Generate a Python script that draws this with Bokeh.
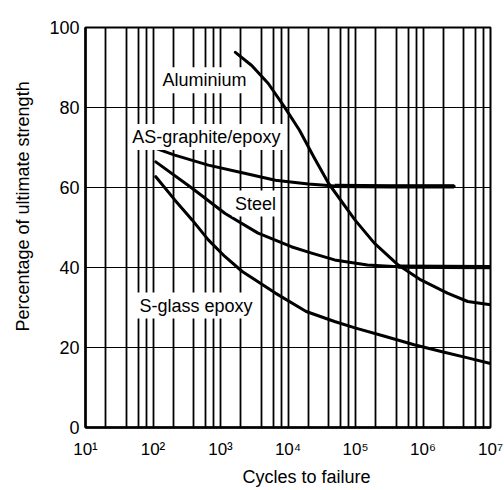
from bokeh.plotting import figure
from bokeh.models import FixedTicker, Label, Title
from bokeh.embed import file_html
from bokeh.resources import INLINE

FONT = "Liberation Sans"

# axis ticks / labels
x_ticks = [10, 100, 1000, 10000, 100000, 1000000, 10000000]
x_tick_labels = ["10¹", "10²", "10³", "10⁴", "10⁵", "10⁶", "10⁷"]
grid_multipliers = [1, 2, 4, 6, 8]
y_ticks = [0, 20, 40, 60, 80, 100]
y_tick_labels = ["0", "20", "40", "60", "80", "100"]

# series: cycles to failure vs % of ultimate strength
alu_x = [1.66e3, 2.9e3, 5.1e3, 8.9e3, 1.48e4, 2.4e4, 4.0e4, 9.8e4, 1.9e5, 4.3e5, 9.3e5, 2.3e6, 4.6e6, 1.0e7]
alu_y = [93.8, 90.5, 86.0, 80.1, 74.3, 67.7, 61.0, 51.9, 46.1, 40.6, 36.9, 33.6, 31.5, 30.7]

gr_x = [1.1e2, 2.1e2, 6.6e2, 2.1e3, 6.5e3, 2.0e4, 4.9e4, 3.2e5, 2.9e6]
gr_y = [69.8, 68.1, 65.6, 63.7, 61.8, 60.9, 60.4, 60.3, 60.3]

st_x = [1.1e2, 3.8e2, 1.17e3, 3.6e3, 1.12e4, 2.24e4, 4.9e4, 1.5e5, 4.3e5, 1.0e7]
st_y = [66.4, 59.8, 53.5, 48.6, 45.2, 43.6, 41.9, 40.6, 40.2, 40.1]

sg_x = [1.1e2, 2.1e2, 3.8e2, 6.6e2, 1.17e3, 2.1e3, 6.5e3, 1.86e4, 4.9e4, 9.8e4, 2.7e5, 7.4e5, 1.86e6, 4.6e6, 1.0e7]
sg_y = [62.7, 56.9, 51.9, 46.9, 42.7, 39.0, 33.6, 29.0, 26.5, 24.9, 22.8, 20.7, 19.0, 17.4, 16.0]

curve_labels = ["Aluminium", "AS-graphite/epoxy", "Steel", "S-glass epoxy"]
label_x = [578, 617, 3310, 434]
label_y = [86.8, 72.6, 56.0, 30.5]

x_title = "Cycles to failure"
y_title = "Percentage of ultimate strength"

grid_x = [m * 10 ** k for k in range(1, 7) for m in grid_multipliers] + [10 ** 7]

p = figure(width=504, height=490, x_axis_type="log",
           x_range=(10, 1e7), y_range=(0, 100),
           output_backend="svg", toolbar_location=None,
           min_border_left=83, min_border_right=14,
           min_border_top=27, min_border_bottom=62,
           background_fill_color="white", border_fill_color="white")

p.outline_line_color = "black"
p.outline_line_width = 2
p.outline_line_alpha = 1.0

# grid
p.xgrid.ticker = FixedTicker(ticks=grid_x)
p.xgrid.grid_line_color = "black"
p.xgrid.grid_line_width = 1.8
p.xgrid.grid_line_alpha = 1.0
p.ygrid.ticker = FixedTicker(ticks=y_ticks)
p.ygrid.grid_line_color = "black"
p.ygrid.grid_line_width = 1.2
p.ygrid.grid_line_alpha = 1.0

# x axis
xa = p.xaxis[0]
xa.ticker = FixedTicker(ticks=x_ticks)
xa.major_label_overrides = {t: s for t, s in zip(x_ticks, x_tick_labels)}
xa.major_label_standoff = 12
xa.major_label_text_font = FONT
xa.major_label_text_font_size = "17px"

# y axis
ya = p.yaxis[0]
ya.ticker = FixedTicker(ticks=y_ticks)
ya.major_label_overrides = {t: s for t, s in zip(y_ticks, y_tick_labels)}
ya.major_label_standoff = 6
ya.major_label_text_font = FONT
ya.major_label_text_font_size = "18px"
ya.major_label_text_baseline = "alphabetic"

for ax in (xa, ya):
    ax.major_tick_in = 0
    ax.major_tick_out = 0
    ax.minor_tick_in = 0
    ax.minor_tick_out = 0
    ax.axis_line_width = 2.5
    ax.axis_line_color = "black"
    ax.major_label_text_color = "black"

# axis titles
p.add_layout(Title(text=x_title, align="left", offset=157, standoff=7,
                   vertical_align="bottom", text_font=FONT, text_font_size="18px",
                   text_font_style="normal", text_color="black"), "below")
p.add_layout(Title(text=y_title, align="left", offset=96, standoff=24,
                   vertical_align="top", text_font=FONT, text_font_size="18px",
                   text_font_style="normal", text_color="black"), "left")

# curves
for xs, ys in [(alu_x, alu_y), (gr_x, gr_y), (st_x, st_y), (sg_x, sg_y)]:
    p.line(xs, ys, line_color="black", line_width=3, line_join="round", line_cap="round")
# heavier flat tails
p.line(gr_x[6:], gr_y[6:], line_color="black", line_width=4.2)
p.line(st_x[8:], st_y[8:], line_color="black", line_width=4.2)

# curve labels
for t, lx, ly in zip(curve_labels, label_x, label_y):
    p.add_layout(Label(x=lx, y=ly, text=t, text_align="center", text_baseline="middle",
                       text_font=FONT, text_font_size="18px", text_color="black",
                       background_fill_color="white", background_fill_alpha=1.0,
                       padding=3))

open("out.html", "w").write(file_html(p, INLINE))
